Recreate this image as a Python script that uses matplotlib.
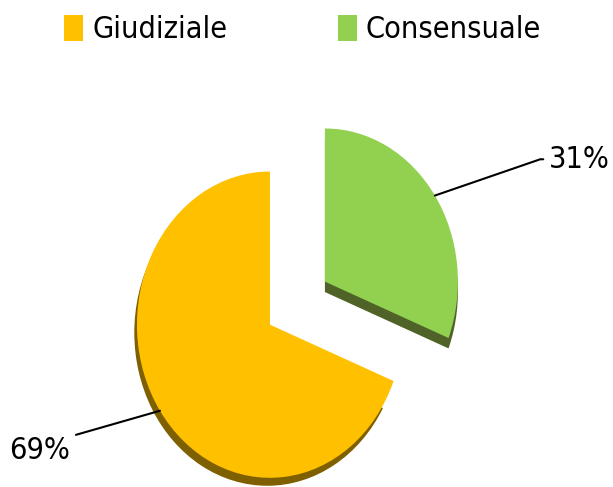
import matplotlib
matplotlib.use('Agg')
import matplotlib.pyplot as plt
import numpy as np
from matplotlib.patches import Wedge

labels = ['Giudiziale', 'Consensuale']
values = [69, 31]
pct_labels = ['69%', '31%']
colors = ['#FFC000', '#92D050']
side_colors = ['#7F6000', '#4F6228']

plt.rcParams['font.family'] = ['DejaVu Sans']
plt.rcParams['font.stretch'] = 'condensed'

fig = plt.figure(figsize=(6.13, 4.87), dpi=100)
ax = fig.add_axes([0, 0, 1, 1])

wedges, _ = ax.pie(values, explode=[0, 0.5], startangle=90, colors=colors)
ax.set_aspect('auto')
ax.set_xlim(-2.03, 2.58)
ax.set_ylim(-1.06, 2.12)
ax.axis('off')

# fake 3d depth: a darker copy of each slice, shifted down
shifts = [(-0.02, -0.052), (0.0, -0.068)]
trims = [8, 0]
for w, c, (dx, dy), trim in zip(wedges, side_colors, shifts, trims):
    cx, cy = w.center
    ax.add_patch(Wedge((cx + dx, cy + dy), w.r, w.theta1, w.theta2 - trim,
                       facecolor=c, edgecolor='none', zorder=0.5))

# percentage labels with leader lines
label_pos = [(-1.50, -0.82), (2.555, 1.08)]
label_ha = ['right', 'right']
seg_angle = [16, 19]
for w, txt, pos, ha, ang in zip(wedges, pct_labels, label_pos, label_ha, seg_angle):
    mid = np.deg2rad((w.theta1 + w.theta2) / 2)
    cx, cy = w.center
    rim = (cx + w.r * np.cos(mid), cy + w.r * np.sin(mid))
    ax.annotate(txt, xy=rim, xytext=pos, ha=ha, va='center', fontsize=22,
                arrowprops=dict(arrowstyle='-', lw=1.5, color='black',
                                shrinkA=2, shrinkB=0,
                                connectionstyle=f'angle,angleA=0,angleB={ang},rad=0'))

fig.legend(wedges, labels, loc='upper center', bbox_to_anchor=(0.494, 0.975),
           ncol=2, frameon=False, fontsize=22, handlelength=0.62,
           handleheight=0.9, handletextpad=0.3, columnspacing=3.6,
           borderaxespad=0, borderpad=0.1)

fig.savefig('out.png', dpi=100)
